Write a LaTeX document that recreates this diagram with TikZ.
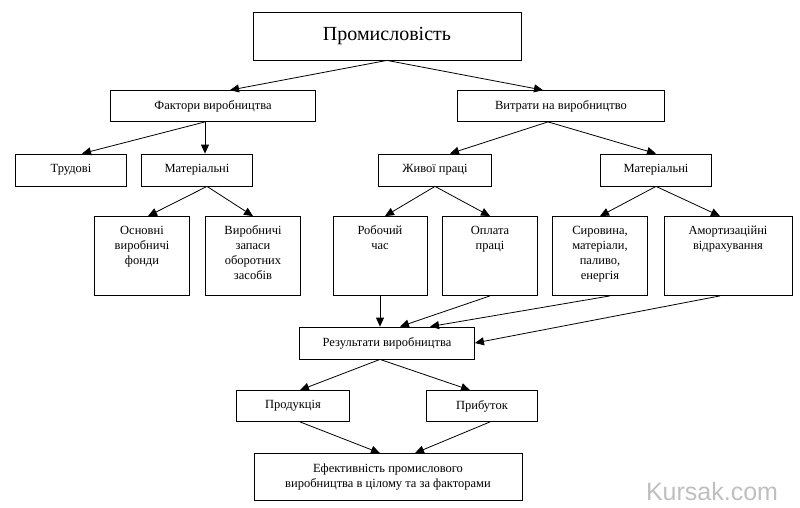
\documentclass[tikz,border=0pt]{standalone}
\usepackage{fontspec}
\setmainfont{Liberation Serif}
\newfontfamily\wmfont{Liberation Sans}
\usetikzlibrary{positioning, arrows.meta}
\tikzset{
  box/.style={draw, thick, rectangle, inner sep=0pt, font=\fontsize{12.5}{15}\selectfont},
  arrow/.style={thick, -{Triangle[width=8pt,length=9pt]}},
}
\newcommand{\tallbox}[1]{\parbox[t][72pt][t]{92pt}{\centering\vspace{6pt}#1}}

\begin{document}
\begin{tikzpicture}[x=1pt, y=-1pt]
  \useasboundingbox (0,0) rectangle (800,508);
  % levels
  \node[box, minimum width=268pt, minimum height=48pt, font=\fontsize{20}{24}\selectfont] (prom) at (387,36) {Промисловість};
  \node[box, minimum width=205pt, minimum height=31pt] (fakt) at (213,106) {Фактори виробництва};
  \node[box, minimum width=207pt, minimum height=31pt] (vytr) at (561,106) {Витрати на виробництво};
  \node[box, minimum width=111pt, minimum height=32pt] (trud) at (71,170) {Трудові};
  \node[box, minimum width=111pt, minimum height=32pt] (mat) at (197,170) {Матеріальні};
  \node[box, minimum width=113pt, minimum height=32pt] (zhyv) at (435,170) {Живої праці};
  \node[box, minimum width=111pt, minimum height=32pt] (matv) at (656,170) {Матеріальні};
  \node[box, minimum width=95pt, minimum height=79pt] (osn) at (142,256) {\tallbox{Основні\\виробничі\\фонди}};
  \node[box, minimum width=95pt, minimum height=79pt] (zap) at (253,256) {\tallbox{Виробничі\\запаси\\оборотних\\засобів}};
  \node[box, minimum width=94pt, minimum height=79pt] (chas) at (380,256) {\tallbox{Робочий\\час}};
  \node[box, minimum width=95pt, minimum height=79pt] (opl) at (490,256) {\tallbox{Оплата\\праці}};
  \node[box, minimum width=95pt, minimum height=79pt] (syr) at (600,256) {\tallbox{Сировина,\\матеріали,\\паливо,\\енергія}};
  \node[box, minimum width=128pt, minimum height=79pt] (amor) at (728,256) {\parbox[t][72pt][t]{125pt}{\centering\vspace{6pt}Амортизаційні\\відрахування}};
  \node[box, minimum width=175pt, minimum height=32pt] (rez) at (387,343) {Результати виробництва};
  \node[box, minimum width=113pt, minimum height=31pt] (prod) at (293,406) {Продукція};
  \node[box, minimum width=111pt, minimum height=31pt] (prib) at (482,406) {Прибуток};
  \node[box, minimum width=268pt, minimum height=47pt, align=center] (efek) at (388,477) {Ефективність промислового\\виробництва в цілому та за факторами};
  % arrows
  \draw[arrow] (prom.south) -- ([xshift=17pt]fakt.north);
  \draw[arrow] (prom.south) -- ([xshift=-18pt]vytr.north);
  \draw[arrow] ([xshift=-8pt]fakt.south) -- ([xshift=11pt]trud.north);
  \draw[arrow] ([xshift=-8pt]fakt.south) -- ([xshift=8pt]mat.north);
  \draw[arrow] ([xshift=10pt]mat.south) -- ([xshift=6pt]osn.north);
  \draw[arrow] ([xshift=10pt]mat.south) -- (zap.north);
  \draw[arrow] ([xshift=-13pt]vytr.south) -- ([xshift=15pt]zhyv.north);
  \draw[arrow] ([xshift=-13pt]vytr.south) -- (matv.north);
  \draw[arrow] (zhyv.south) -- ([xshift=5pt]chas.north);
  \draw[arrow] (zhyv.south) -- (opl.north);
  \draw[arrow] (matv.south) -- (syr.north);
  \draw[arrow] (matv.south) -- ([xshift=-8pt]amor.north);
  \draw[arrow] (chas.south) -- ([xshift=-7pt]rez.north);
  \draw[arrow] (opl.south) -- ([xshift=13pt]rez.north);
  \draw[arrow] ([xshift=10pt]syr.south) -- ([xshift=43pt]rez.north);
  \draw[arrow] ([xshift=-8pt]amor.south) -- (rez.east);
  \draw[arrow] ([xshift=-7pt]rez.south) -- ([xshift=7pt]prod.north);
  \draw[arrow] ([xshift=-7pt]rez.south) -- ([xshift=-12pt]prib.north);
  \draw[arrow] ([xshift=7pt]prod.south) -- ([xshift=-8pt]efek.north);
  \draw[arrow] ([xshift=8pt]prib.south) -- ([xshift=27pt]efek.north);
  % watermark
  \node[text=black!25, font=\wmfont\fontsize{25}{28}\selectfont] (wm) at (712,492) {Kursak.com};
\end{tikzpicture}
\end{document}
